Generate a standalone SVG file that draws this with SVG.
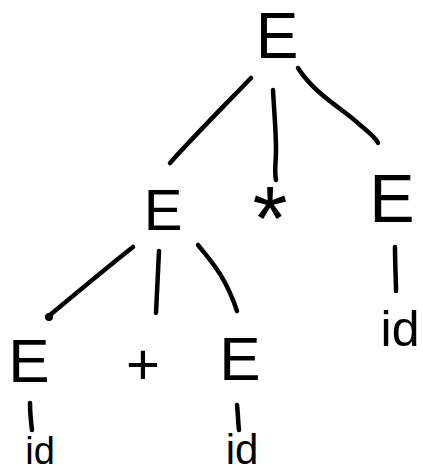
<svg xmlns="http://www.w3.org/2000/svg" width="423" height="473" viewBox="0 0 423 473">
<style>
.t{font-family:"Liberation Sans",Arial,sans-serif;fill:#000;text-anchor:middle}
.c{fill:none;stroke:#000;stroke-width:4.5;stroke-linecap:round;stroke-linejoin:round}
</style>
<rect width="423" height="473" fill="#fff"/>
<g id="connectors">
<path class="c" d="M251,78 C225,105 195,135 170,163"/>
<path class="c" d="M273,90 C274,110 276,130 276,150 C276,165 274,170 276,180"/>
<path class="c" d="M298,68 C315,95 345,110 360,125 C370,133 376,138 378,143"/>
<path class="c" d="M133,247 C110,265 80,290 50,315"/>
<circle cx="49" cy="317" r="4"/>
<path class="c" d="M159,251 C158,275 157,295 156,313"/>
<path class="c" d="M198,245 C210,260 225,275 237,311"/>
<path class="c" d="M395,247 C395,265 396,280 396,291"/>
<path class="c" d="M30,403 C30,413 31,422 32,430"/>
<path class="c" d="M237,405 C238,413 238,422 239,430"/>
</g>
<g id="n-root"><text class="t" x="277" y="58" font-size="64">E</text></g>
<g id="n-e1"><text class="t" x="163" y="230" font-size="58">E</text></g>
<g id="n-star"><text class="t" x="270" y="250" font-size="90">*</text></g>
<g id="n-e2"><text class="t" x="392" y="222" font-size="68">E</text></g>
<g id="n-id1"><text class="t" x="400" y="346" font-size="50">id</text></g>
<g id="n-e3"><text class="t" x="29" y="382" font-size="62">E</text></g>
<g id="n-plus"><text class="t" x="143" y="384" font-size="58">+</text></g>
<g id="n-e4"><text class="t" x="240" y="380" font-size="62">E</text></g>
<g id="n-id2"><text class="t" x="40" y="464" font-size="38">id</text></g>
<g id="n-id3"><text class="t" x="242" y="464" font-size="42">id</text></g>
</svg>
